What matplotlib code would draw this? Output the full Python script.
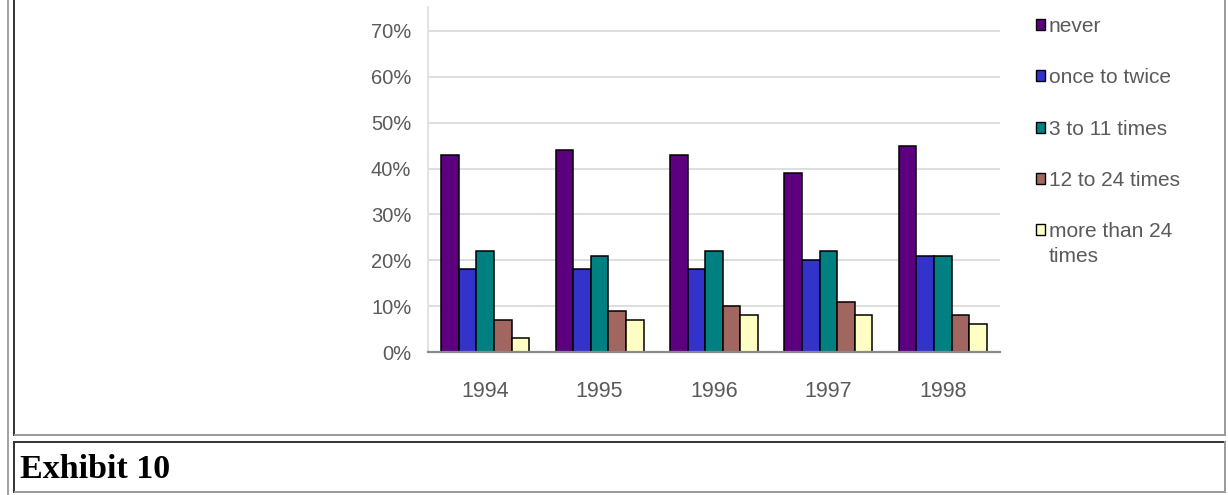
import matplotlib.pyplot as plt
from matplotlib.lines import Line2D
from matplotlib.patches import Patch
import numpy as np

years = ['1994', '1995', '1996', '1997', '1998']
series = ['never', 'once to twice', '3 to 11 times', '12 to 24 times',
          'more than 24\ntimes']
never = [43, 44, 43, 39, 45]
once_twice = [18, 18, 18, 20, 21]
three_eleven = [22, 21, 22, 22, 21]
twelve_24 = [7, 9, 10, 11, 8]
more_24 = [3, 7, 8, 8, 6]
yticks = [0, 10, 20, 30, 40, 50, 60, 70]

colors = ['#5c0080', '#3333cc', '#008080', '#a0665f', '#ffffc4']
values = [never, once_twice, three_eleven, twelve_24, more_24]

W, H = 1228, 495
fig = plt.figure(figsize=(W / 100, H / 100), dpi=100)
plt.rcParams['font.family'] = ['Liberation Sans', 'DejaVu Sans']
txtcol = '#5a5a5a'

def fx(x):
    return x / W

def fy(y):
    return 1 - y / H

ax = fig.add_axes([fx(428), fy(352), fx(1000) - fx(428), fy(7) - fy(352)])

x = np.arange(len(years))
bw = 0.154
for i, (vals, c) in enumerate(zip(values, colors)):
    ax.bar(x + (i - 2) * bw, vals, bw, color=c, edgecolor='black',
           linewidth=1.1, zorder=3, label=series[i])

ax.set_xlim(-0.5, 4.5)
ax.set_ylim(0, 70 * (352 - 7) / (352 - 31))
ax.set_yticks(yticks)
ax.set_yticklabels([f'{t}%' for t in yticks])
ax.set_xticks(x)
ax.set_xticklabels(years)
ax.tick_params(axis='y', length=0, pad=12, labelsize=14.5, labelcolor=txtcol)
ax.tick_params(axis='x', length=0, pad=21, labelsize=15.5, labelcolor=txtcol)
ax.grid(axis='y', color='#d8d8d8', linewidth=1.2, zorder=0)
for s in ['top', 'right']:
    ax.spines[s].set_visible(False)
ax.spines['left'].set_color('#dddddd')
ax.spines['left'].set_linewidth(1.2)
ax.spines['bottom'].set_color('#8a8a8a')
ax.spines['bottom'].set_linewidth(1.6)
ax.spines['bottom'].set_zorder(4)

# legend: first line of each name, wrapped tail drawn underneath
first_lines = [s.split('\n')[0] for s in series]
handles = [Patch(facecolor=c, edgecolor='black', linewidth=1.0) for c in colors]
leg = fig.legend(handles, first_lines, loc='upper left',
                 bbox_to_anchor=(fx(1036), fy(17)), frameon=False,
                 fontsize=15, labelcolor=txtcol, handlelength=0.44,
                 handleheight=0.44, handletextpad=0.18, labelspacing=1.55,
                 borderpad=0, borderaxespad=0)

fig.canvas.draw()
for t, s in zip(leg.get_texts(), series):
    parts = s.split('\n')
    if len(parts) > 1:
        bb = t.get_window_extent()
        fig.text(bb.x0 / W, (bb.y0 - 6) / H, '\n'.join(parts[1:]),
                 fontsize=15, color=txtcol, va='top', ha='left')

# table borders
def line(x0, y0, x1, y1, color, lw):
    fig.add_artist(Line2D([fx(x0), fx(x1)], [fy(y0), fy(y1)], color=color,
                          linewidth=lw, solid_capstyle='butt'))

line(7.5, 0, 7.5, H, '#a0a0a0', 1.4)
line(14, 0, 14, 436, '#333333', 1.4)
line(14, 435, 1226, 435, '#999999', 1.4)
line(1225, 0, 1225, 436, '#999999', 1.4)
line(14, 442, 1226, 442, '#333333', 1.4)
line(14, 441, 14, 493, '#333333', 1.4)
line(1225, 441, 1225, 493, '#999999', 1.4)
line(14, 492, 1226, 492, '#999999', 1.4)

fig.text(fx(20), fy(478), 'Exhibit 10', fontsize=24.5, fontweight='bold',
         family=['Liberation Serif', 'DejaVu Serif'], color='black',
         va='baseline', ha='left')

fig.savefig('out.png', dpi=100)
